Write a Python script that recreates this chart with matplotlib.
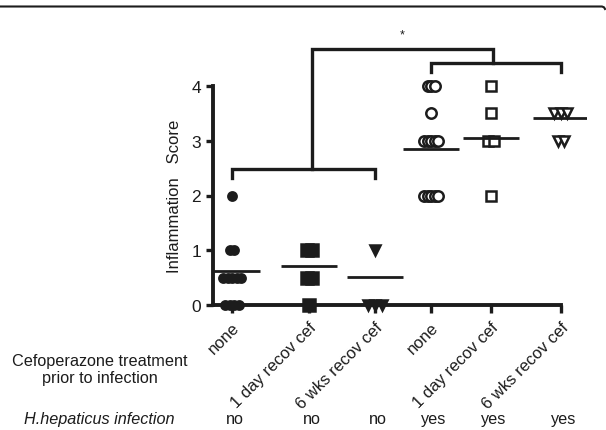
import numpy as np
import matplotlib
matplotlib.use('Agg')
import matplotlib.pyplot as plt
from matplotlib.lines import Line2D

plt.rcParams['font.family'] = ['Liberation Sans', 'DejaVu Sans']

## data ######################################
treatments = ['none', '1 day recov cef', '6 wks recov cef',
              'none', '1 day recov cef', '6 wks recov cef']
infected = ['no', 'no', 'no', 'yes', 'yes', 'yes']

scores_none_no = [2, 1, 1, 0.5, 0.5, 0.5, 0.5, 0.5, 0, 0, 0, 0]
scores_1day_no = [1, 1, 0.5, 0.5, 0]
scores_6wk_no = [1, 0, 0, 0]
scores_none_yes = [4, 4, 4, 3.5, 3, 3, 3, 3, 3, 2, 2, 2, 2, 2]
scores_1day_yes = [4, 3.5, 3, 3, 2]
scores_6wk_yes = [3.5, 3.5, 3.5, 3, 3]
group_means = [0.62, 0.72, 0.52, 2.85, 3.05, 3.41]
##############################################

groups = [scores_none_no, scores_1day_no, scores_6wk_no,
          scores_none_yes, scores_1day_yes, scores_6wk_yes]

# layout (x in pixel-like units)
xpos = [232, 309, 375, 431, 491, 561]
markers = ['o', 's', 'v', 'o', 's', 'v']
filled = [True, True, True, False, False, False]
msizes = [6, 8, 7, 7.5, 7.5, 7]
spacing = [4.5, 5, 7, 3.5, 6, 6.5]
ink = '#1c1c1c'


def spread(vals, step):
    # put equal scores side by side
    vals = np.asarray(vals, dtype=float)
    offs = np.zeros(len(vals))
    for v in np.unique(vals):
        idx = np.where(vals == v)[0]
        n = len(idx)
        offs[idx] = (np.arange(n) - (n - 1) / 2) * step
    return offs


fig = plt.figure(figsize=(6.06, 4.31), dpi=100)
W, H = 606, 431
ylo, yhi = -0.15, 5.2
ppu = 54.75
bottom_px = 306 + (0 - ylo) * ppu
top_px = 306 - yhi * ppu
ax = fig.add_axes([213 / W, (H - bottom_px) / H, 374 / W, (bottom_px - top_px) / H])
ax.set_xlim(213, 587)
ax.set_ylim(ylo, yhi)

for i, vals in enumerate(groups):
    xs = xpos[i] + spread(vals, spacing[i])
    ax.plot(xs, vals, linestyle='none', marker=markers[i], ms=msizes[i],
            mfc=ink if filled[i] else 'white', mec=ink, mew=1.8,
            clip_on=False, zorder=3)
    ax.plot([xpos[i] - 28, xpos[i] + 28], [group_means[i]] * 2,
            color=ink, lw=2, solid_capstyle='butt', zorder=4)

# significance brackets
blw = 2.4
ax.plot([xpos[0], xpos[0], xpos[2], xpos[2]], [2.32, 2.48, 2.48, 2.32],
        color=ink, lw=blw, solid_joinstyle='miter')
ax.plot([xpos[3], xpos[3], xpos[5], xpos[5]], [4.26, 4.42, 4.42, 4.26],
        color=ink, lw=blw, solid_joinstyle='miter')
lx = (xpos[0] + xpos[2]) / 2 + 8
rx = (xpos[3] + xpos[5]) / 2 - 3
ax.plot([lx, lx, rx, rx], [2.48, 4.68, 4.68, 4.42], color=ink, lw=blw,
        solid_joinstyle='miter')
ax.text((lx + rx) / 2, 4.95, '*', ha='center', va='center', fontsize=9, color=ink)

for s in ['top', 'right']:
    ax.spines[s].set_visible(False)
ax.spines['left'].set_bounds(0, 4)
ax.spines['bottom'].set_position(('data', 0))
ax.spines['bottom'].set_bounds(213, xpos[-1])
for s in ['left', 'bottom']:
    ax.spines[s].set_linewidth(2.8)
    ax.spines[s].set_color(ink)

ax.set_yticks([0, 1, 2, 3, 4])
ax.set_xticks(xpos)
ax.set_xticklabels(treatments, rotation=45, ha='right', va='top',
                   rotation_mode='anchor')
ax.tick_params(axis='both', colors=ink, width=2.4, length=5, labelsize=12)
ax.tick_params(axis='y', labelsize=12.5)
ax.tick_params(axis='x', length=6, pad=4)
ax.set_ylabel('Inflammation   Score', fontsize=12, color=ink, labelpad=8)
ax.yaxis.set_label_coords(-0.083, (2 - ylo) / (yhi - ylo))

fig.text(100 / W, 1 - 370 / H, 'Cefoperazone treatment\nprior to infection',
         ha='center', va='center', fontsize=11.7, color=ink)
fig.text(99 / W, 1 - 420 / H, 'H.hepaticus infection', ha='center', va='center',
         fontsize=11.7, style='italic', color=ink)
for x, lab in zip(xpos, infected):
    ax.annotate(lab, xy=(x + 3, 1 - 420 / H), xycoords=('data', 'figure fraction'),
                ha='center', va='center', fontsize=11.7, color=ink)

# frame edge at top of panel
fx = np.array([0, 602, 604, 605]) / W
fy = 1 - np.array([7.5, 7.5, 8.3, 10]) / H
fig.add_artist(Line2D(fx, fy, transform=fig.transFigure, color=ink, lw=1.5))

fig.savefig('out.png', dpi=100)
